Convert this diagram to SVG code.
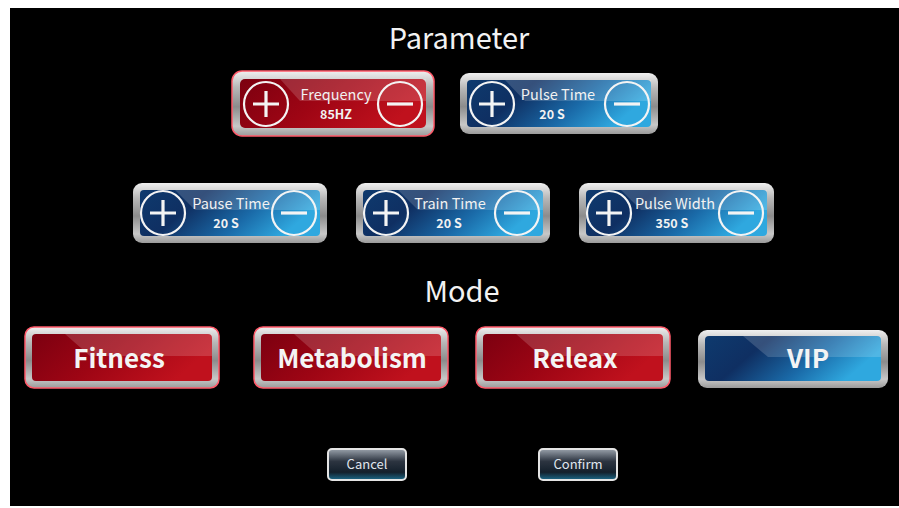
<svg xmlns="http://www.w3.org/2000/svg" width="899" height="508" viewBox="0 0 899 508">
<defs>
<style>
.t{font-family:"Noto Sans CJK SC","Noto Sans",sans-serif;fill:#f2f2f2;text-anchor:middle}
.h{font-size:29px}
.p1{font-size:14.5px}
.p2{font-size:12.5px;font-weight:bold}
.m{font-size:26px;font-weight:bold;fill:#f4f4f4}
.s{font-size:13px;fill:#e0e6ee}
.ring{fill:none;stroke:#f4f4f4;stroke-width:2.2}
.bar{stroke:#f4f4f4;stroke-width:3.2;stroke-linecap:butt}
.gloss{fill:#ffffff;opacity:0.16}
</style>
<linearGradient id="silver" x1="0" y1="0" x2="0" y2="1">
<stop offset="0" stop-color="#f0f0f0"/><stop offset="0.25" stop-color="#b8b8b8"/><stop offset="0.55" stop-color="#8c8c8c"/><stop offset="0.85" stop-color="#c8c8c8"/><stop offset="1" stop-color="#9a9a9a"/>
</linearGradient>
<linearGradient id="red" x1="0" y1="0" x2="1" y2="0.3">
<stop offset="0" stop-color="#7c0010"/><stop offset="0.5" stop-color="#9e0514"/><stop offset="1" stop-color="#c0111d"/>
</linearGradient>
<linearGradient id="blue" x1="0" y1="0" x2="1" y2="0.3">
<stop offset="0" stop-color="#0e3a6e"/><stop offset="0.35" stop-color="#0f2f62"/><stop offset="0.7" stop-color="#1a6aa8"/><stop offset="1" stop-color="#2fa8df"/>
</linearGradient>
<linearGradient id="small" x1="0" y1="0" x2="0" y2="1">
<stop offset="0" stop-color="#9aa2ac"/><stop offset="0.4" stop-color="#2c3440"/><stop offset="0.75" stop-color="#14202c"/><stop offset="1" stop-color="#1b6a8a"/>
</linearGradient>
</defs>
<rect x="0" y="0" width="899" height="508" fill="#ffffff"/>
<rect x="10" y="8" width="889" height="498" fill="#000000"/>
<g id="connectors"/>

<g id="title-parameter"><text class="t h" x="459" y="49">Parameter</text></g>

<g id="frequency">
<rect x="232" y="71" width="202" height="65" rx="10" fill="url(#silver)" stroke="#ff5a6a" stroke-width="1.5"/>
<rect x="240" y="79" width="186" height="49" rx="5" fill="url(#red)"/>
<path class="gloss" d="M280 79 H426 V101 H300 Z"/>
<circle class="ring" cx="266" cy="104" r="22"/><path class="bar" d="M253 104 H279 M266 91 V117"/>
<circle class="ring" cx="400" cy="104" r="22"/><path class="bar" d="M387 104 H413"/>
<text class="t p1" x="336" y="100">Frequency</text><text class="t p2" x="336" y="119">85HZ</text>
</g>

<g id="pulse-time">
<rect x="460" y="73" width="198" height="61" rx="9" fill="url(#silver)"/>
<rect x="467" y="80" width="184" height="47" rx="4" fill="url(#blue)"/>
<path class="gloss" d="M505 80 H651 V101 H525 Z"/>
<circle class="ring" cx="492" cy="104" r="22"/><path class="bar" d="M479 104 H505 M492 91 V117"/>
<circle class="ring" cx="627" cy="104" r="22"/><path class="bar" d="M614 104 H640"/>
<text class="t p1" x="558" y="100">Pulse Time</text><text class="t p2" x="552" y="119">20 S</text>
</g>

<g id="pause-time">
<rect x="133" y="183" width="194" height="60" rx="9" fill="url(#silver)"/>
<rect x="140" y="190" width="180" height="46" rx="4" fill="url(#blue)"/>
<path class="gloss" d="M175 190 H320 V210 H195 Z"/>
<circle class="ring" cx="163" cy="213" r="22"/><path class="bar" d="M150 213 H176 M163 200 V226"/>
<circle class="ring" cx="294" cy="213" r="22"/><path class="bar" d="M281 213 H307"/>
<text class="t p1" x="231" y="209">Pause Time</text><text class="t p2" x="226" y="228">20 S</text>
</g>

<g id="train-time">
<rect x="356" y="183" width="194" height="60" rx="9" fill="url(#silver)"/>
<rect x="363" y="190" width="180" height="46" rx="4" fill="url(#blue)"/>
<path class="gloss" d="M398 190 H543 V210 H418 Z"/>
<circle class="ring" cx="386" cy="213" r="22"/><path class="bar" d="M373 213 H399 M386 200 V226"/>
<circle class="ring" cx="517" cy="213" r="22"/><path class="bar" d="M504 213 H530"/>
<text class="t p1" x="450" y="209">Train Time</text><text class="t p2" x="449" y="228">20 S</text>
</g>

<g id="pulse-width">
<rect x="579" y="183" width="195" height="60" rx="9" fill="url(#silver)"/>
<rect x="586" y="190" width="181" height="46" rx="4" fill="url(#blue)"/>
<path class="gloss" d="M621 190 H767 V210 H641 Z"/>
<circle class="ring" cx="609" cy="213" r="22"/><path class="bar" d="M596 213 H622 M609 200 V226"/>
<circle class="ring" cx="741" cy="213" r="22"/><path class="bar" d="M728 213 H754"/>
<text class="t p1" x="675" y="209">Pulse Width</text><text class="t p2" x="672" y="228">350 S</text>
</g>

<g id="title-mode"><text class="t h" x="462" y="302">Mode</text></g>

<g id="fitness">
<rect x="25" y="327" width="194" height="61" rx="9" fill="url(#silver)" stroke="#ff5a6a" stroke-width="1.5"/>
<rect x="32" y="334" width="180" height="47" rx="4" fill="url(#red)"/>
<path class="gloss" d="M65 334 H212 V356 H90 Z"/>
<text class="t m" x="119" y="368">Fitness</text>
</g>

<g id="metabolism">
<rect x="254" y="327" width="194" height="61" rx="9" fill="url(#silver)" stroke="#ff5a6a" stroke-width="1.5"/>
<rect x="261" y="334" width="180" height="47" rx="4" fill="url(#red)"/>
<path class="gloss" d="M294 334 H441 V356 H319 Z"/>
<text class="t m" x="352" y="368">Metabolism</text>
</g>

<g id="releax">
<rect x="476" y="327" width="194" height="61" rx="9" fill="url(#silver)" stroke="#ff5a6a" stroke-width="1.5"/>
<rect x="483" y="334" width="180" height="47" rx="4" fill="url(#red)"/>
<path class="gloss" d="M516 334 H663 V356 H541 Z"/>
<text class="t m" x="575" y="368">Releax</text>
</g>

<g id="vip">
<rect x="698" y="330" width="190" height="58" rx="9" fill="url(#silver)"/>
<rect x="705" y="336" width="176" height="45" rx="4" fill="url(#blue)"/>
<path class="gloss" d="M743 336 H881 V357 H768 Z"/>
<text class="t m" x="808" y="368">VIP</text>
</g>

<g id="cancel">
<rect x="328" y="449" width="78" height="31" rx="4" fill="url(#small)" stroke="#e4e4e4" stroke-width="2"/>
<text class="t s" x="367" y="469">Cancel</text>
</g>

<g id="confirm">
<rect x="539" y="449" width="78" height="31" rx="4" fill="url(#small)" stroke="#e4e4e4" stroke-width="2"/>
<text class="t s" x="578" y="469">Confirm</text>
</g>
</svg>
